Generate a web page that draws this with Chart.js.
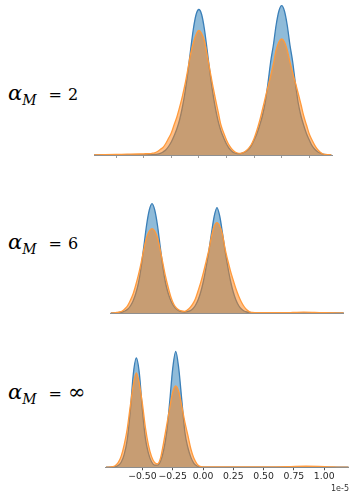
<!DOCTYPE html>
<html>
<head>
<meta charset="utf-8">
<script src="https://cdn.jsdelivr.net/npm/chart.js@4.4.0/dist/chart.umd.min.js"></script>
<style>
  body { margin: 0; background: #fff; width: 363px; height: 498px; overflow: hidden; position: relative; }
  canvas { position: absolute; }
  .lab { position: absolute; left: 8px; font-family: 'DejaVu Serif', serif; font-size: 16px; line-height: 20px; white-space: nowrap; color: #000; }
  .lab .a { font-style: italic; font-size: 21px; }
  .lab .m { font-style: italic; font-size: 14px; position: relative; top: 5px; }
  .lab .eq { margin-left: 12px; }
  .lab .v { margin-left: 6px; }
  .lab .inf { font-size: 21px; }
</style>
</head>
<body>
<div class="lab" style="top:83px"><span class="a">α</span><span class="m">M</span><span class="eq">=</span><span class="v">2</span></div>
<div class="lab" style="top:232px"><span class="a">α</span><span class="m">M</span><span class="eq">=</span><span class="v">6</span></div>
<div class="lab" style="top:382px"><span class="a">α</span><span class="m">M</span><span class="eq">=</span><span class="v inf">∞</span></div>

<canvas id="c1" width="239" height="158" style="left:94px;top:0px"></canvas>
<canvas id="c2" width="234" height="141" style="left:110px;top:175px"></canvas>
<canvas id="c3" width="244" height="160" style="left:105px;top:335px"></canvas>

<script>
// alpha_M = 2
const xsTop = [-0.95, -0.85, -0.75, -0.65, -0.55, -0.5, -0.45, -0.425, -0.4, -0.375, -0.35, -0.325, -0.3, -0.275, -0.25, -0.225, -0.2, -0.175, -0.15, -0.125, -0.1, -0.075, -0.05, -0.025,
  0, 0.025, 0.05, 0.075, 0.1, 0.125, 0.15, 0.175, 0.2, 0.225, 0.25, 0.275, 0.3, 0.325, 0.35, 0.375, 0.4, 0.425, 0.45, 0.475,
  0.5, 0.525, 0.55, 0.575, 0.6, 0.625, 0.65, 0.675, 0.7, 0.725, 0.75, 0.775, 0.8, 0.825, 0.85, 0.875, 0.9, 0.925, 0.95, 0.975,
  1.0, 1.025, 1.05, 1.075, 1.1, 1.125, 1.15, 1.2];
const blueTop = [0.1, 0.1, 0.1, 0.2, 0.2, 0.2, 0.3, 0.4, 0.5, 0.9, 1.7, 3, 5, 8.5, 13, 19, 26, 35, 47.5, 63, 82.7, 105, 126, 140.5,
  145.5, 140.5, 126, 105, 82.7, 63, 46.7, 33.7, 24, 17, 11, 6.5, 3.6, 2.0, 1.4, 1.4, 2.1, 3.5, 5.7, 9.3,
  15, 21.3, 29.5, 39, 52, 71, 93, 110, 130, 144, 149.3, 144, 130, 110, 93, 71, 52, 39, 29.5, 21.3,
  15, 9.3, 5.7, 3.3, 1.8, 0.9, 0.4, 0.1];
const orangeTop = [0.2, 0.4, 0.6, 0.8, 1.0, 1.2, 1.4, 1.7, 2.2, 3.5, 5.5, 7.5, 11.5, 16.7, 22, 30, 37.8, 47.6, 58.4, 71, 85.7, 101, 112, 120.5,
  124.5, 121.5, 114, 100, 85, 70, 56, 43, 30, 22, 15, 9.6, 5.7, 3.3, 2.0, 1.7, 2.4, 4.1, 6.7, 10.5,
  16.5, 24.5, 34, 45, 56.5, 68, 79, 91, 105, 113, 116, 113, 105, 93, 82, 72, 61.5, 50.5, 39, 30,
  21, 15, 9.7, 5.5, 2.8, 1.0, 0.5, 0.2];
const ticksTop = [-0.75, -0.5, -0.25, 0, 0.25, 0.5, 0.75, 1.0];

// alpha_M = 6
const xsMid = [-0.38, -0.35, -0.325, -0.3, -0.275, -0.25, -0.225, -0.2, -0.175, -0.15, -0.125, -0.1, -0.075, -0.05, -0.025,
  0, 0.025, 0.05, 0.075, 0.1, 0.125, 0.15, 0.175, 0.2, 0.225, 0.25, 0.275, 0.3, 0.325, 0.35, 0.375, 0.4, 0.425, 0.45, 0.475,
  0.5, 0.525, 0.55, 0.575, 0.6, 0.625, 0.65, 0.675, 0.7, 0.725, 0.75, 0.775, 0.8, 0.825, 0.85, 0.875, 0.9, 0.925, 0.95,
  1.05, 1.2, 1.3, 1.4, 1.5, 1.6, 1.77];
const blueMid = [0, 0.1, 0.2, 0.5, 1.0, 2.0, 3.8, 7, 12, 19.5, 30, 46, 67, 88, 103,
  109.4, 103, 88, 67, 46, 30, 19.5, 12, 7, 3.9, 2.1, 1.3, 1.0, 1.3, 2.1, 4, 7.5, 13, 21, 32,
  46, 62, 80.5, 97, 105.4, 97, 80.5, 62, 46, 32, 21, 13, 7.5, 4, 2, 1, 0.5, 0.3, 0.2,
  0.1, 0, 0, 0, 0, 0, 0];
const orangeMid = [0.1, 0.2, 0.5, 1.0, 2.0, 4.3, 7.3, 12.6, 19, 28, 38.3, 50.4, 64, 75.5, 82,
  84.4, 82, 75.5, 63.5, 50, 36.5, 25.5, 15.8, 9, 5.1, 3.0, 2.0, 1.7, 2.9, 5.2, 8.8, 14, 22, 30.5, 40.5,
  51.7, 63, 77, 87, 90.4, 87, 79, 64, 52.5, 41.9, 32.8, 24.2, 17, 11, 6.5, 3.2, 1.2, 0.6, 0.4,
  0.3, 0.3, 0.5, 0.8, 0.6, 0.3, 0.1];

// alpha_M = inf
const xsBot = [-0.8, -0.775, -0.75, -0.725, -0.7, -0.675, -0.65, -0.625, -0.6, -0.575, -0.55, -0.525, -0.5, -0.475, -0.45, -0.425,
  -0.4, -0.375, -0.35, -0.325, -0.3, -0.275, -0.25, -0.225, -0.2, -0.175, -0.15, -0.125, -0.1, -0.075, -0.05, -0.025,
  0, 0.1, 0.25, 0.5, 0.7, 0.85, 0.95, 1.05, 1.15, 1.2];
const blueBot = [0, 0.1, 0.2, 0.6, 1.8, 5, 13, 28, 57, 94.5, 110.7, 95, 58, 29, 14, 5.5,
  2.2, 2.1, 6.2, 17, 35, 66, 100, 117.3, 100, 68, 36, 20, 10, 4, 1.3, 0.4,
  0.1, 0.1, 0, 0, 0, 0, 0, 0, 0, 0];
const orangeBot = [0.1, 0.2, 0.5, 1.5, 4.6, 11.3, 23, 39, 62, 83.5, 95.7, 84.5, 64.5, 40, 22.5, 11,
  5, 3.5, 9.5, 25, 42.5, 60, 76, 82.3, 76.5, 62, 46, 32.5, 18.5, 9, 3.5, 0.8,
  0.3, 0.3, 0.3, 0.3, 0.5, 1.0, 0.9, 0.4, 0.1, 0.1];
const ticksBot = [-0.5, -0.25, 0, 0.25, 0.5, 0.75, 1.0];

function pts(xs, ys) {
  return xs.map((x, i) => ({ x: x, y: ys[i] }));
}

function ridge(id, xs, blue, orange, xmin, xmax, ymax, tickVals, showLabels, tickColor) {
  const ctx = document.getElementById(id).getContext('2d');
  return new Chart(ctx, {
    type: 'line',
    data: {
      datasets: [
        {
          data: pts(xs, blue),
          borderColor: '#3a7fb8',
          backgroundColor: 'rgba(31, 119, 180, 0.5)',
          fill: 'origin',
          order: 2
        },
        {
          data: pts(xs, orange),
          borderColor: '#ff9a3c',
          backgroundColor: 'rgba(255, 127, 14, 0.5)',
          fill: 'origin',
          order: 1
        }
      ]
    },
    options: {
      responsive: false,
      animation: false,
      events: [],
      layout: { padding: 0 },
      elements: {
        point: { radius: 0 },
        line: { borderWidth: 1.3, cubicInterpolationMode: 'monotone' }
      },
      plugins: { legend: { display: false }, tooltip: { enabled: false } },
      scales: {
        x: {
          type: 'linear',
          min: xmin,
          max: xmax,
          afterBuildTicks: axis => { axis.ticks = tickVals.map(v => ({ value: v })); },
          grid: { drawOnChartArea: false, tickLength: 3, tickColor: tickColor },
          border: { color: '#8f8f8f', width: 1 },
          ticks: {
            display: showLabels,
            autoSkip: false,
            maxRotation: 0,
            minRotation: 0,
            padding: 1,
            color: '#2a2a2a',
            font: { family: 'DejaVu Sans', size: 9.3 },
            callback: v => (v < 0 ? '\u2212' : '') + Math.abs(v).toFixed(2)
          },
          title: {
            display: showLabels,
            text: '1e-5',
            align: 'end',
            color: '#333',
            padding: { top: 1, bottom: 1 },
            font: { family: 'DejaVu Sans', size: 8 }
          }
        },
        y: { display: false, min: 0, max: ymax }
      }
    }
  });
}

ridge('c1', xsTop, blueTop, orangeTop, -0.95, 1.215, 155, ticksTop, false, '#9a9a9a');
ridge('c2', xsMid, blueMid, orangeMid, -0.388, 1.773, 138, [], false, 'transparent');
ridge('c3', xsBot, blueBot, orangeBot, -0.8086, 1.2046, 134, ticksBot, true, '#555');
</script>
</body>
</html>
